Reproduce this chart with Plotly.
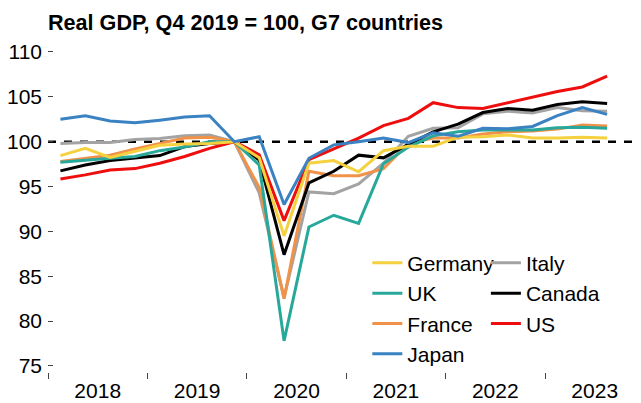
import plotly.graph_objects as go

quarters = ["2018Q1","2018Q2","2018Q3","2018Q4","2019Q1","2019Q2","2019Q3","2019Q4",
            "2020Q1","2020Q2","2020Q3","2020Q4","2021Q1","2021Q2","2021Q3","2021Q4",
            "2022Q1","2022Q2","2022Q3","2022Q4","2023Q1","2023Q2","2023Q3"]

germany = [98.45, 99.25, 98.25, 98.9, 99.6, 99.75, 99.8, 100, 98.2, 89.5, 97.6, 97.9,
           96.65, 99.0, 99.5, 99.5, 100.5, 100.55, 100.75, 100.4, 100.4, 100.5, 100.4]
italy = [99.8, 99.9, 99.9, 100.25, 100.35, 100.65, 100.75, 100, 94.3, 82.6, 94.4, 94.2,
         95.3, 97.6, 100.6, 101.5, 101.55, 103.1, 103.4, 103.2, 103.8, 103.45, 103.4]
uk = [97.7, 97.95, 98.15, 98.35, 99.0, 99.4, 100.0, 100, 97.4, 77.8, 90.5, 91.8,
      90.9, 97.55, 99.4, 100.65, 101.1, 101.3, 101.3, 101.3, 101.55, 101.6, 101.5]
canada = [96.75, 97.4, 97.9, 98.15, 98.45, 99.45, 99.8, 100, 97.95, 87.4, 95.4, 96.7,
          98.5, 98.2, 99.7, 101.1, 101.95, 103.25, 103.7, 103.5, 104.15, 104.45, 104.25]
france = [97.8, 98.15, 98.5, 99.2, 99.8, 100.4, 100.5, 100, 94.9, 82.5, 96.7, 96.2,
          96.2, 97.0, 99.8, 100.4, 100.4, 100.85, 101.1, 101.2, 101.4, 101.85, 101.75]
us = [95.85, 96.3, 96.85, 97.0, 97.6, 98.35, 99.25, 100, 98.55, 91.2, 98.0, 99.2,
      100.4, 101.8, 102.6, 104.35, 103.8, 103.7, 104.35, 105.0, 105.6, 106.1, 107.3]
japan = [102.5, 102.9, 102.3, 102.1, 102.4, 102.75, 102.9, 100, 100.55, 93.0, 98.15, 99.65,
         100.0, 100.4, 99.9, 101.0, 100.6, 101.5, 101.45, 101.7, 102.9, 103.8, 103.05]

years = [2018, 2019, 2020, 2021, 2022, 2023]
year_labels = ["2018", "2019", "2020", "2021", "2022", "2023"]
y_ticks = [75, 80, 85, 90, 95, 100, 105, 110]
baseline = 100

# quarter -> numeric position at the middle of the quarter
x = [int(q[:4]) + (int(q[-1]) - 0.5) / 4 for q in quarters]

FONT = "Liberation Sans, Arial, sans-serif"

# (name, values, colour, legend, rank) - drawing order chosen for overlaps
series = [
    ("Italy", italy, "#A3A3A3", "legend2", 1),
    ("France", france, "#F0924A", "legend", 3),
    ("Canada", canada, "#000000", "legend2", 2),
    ("UK", uk, "#27A89A", "legend", 2),
    ("US", us, "#EE0E0E", "legend2", 3),
    ("Germany", germany, "#F5D13F", "legend", 1),
    ("Japan", japan, "#3A82C2", "legend", 4),
]

fig = go.Figure()
for name, vals, col, leg, rank in series:
    fig.add_trace(go.Scatter(
        x=x, y=vals, mode="lines", name=name,
        line=dict(color=col, width=3),
        legend=leg, legendrank=rank, legendgroup=name,
    ))

fig.add_shape(type="line", xref="paper", x0=0, x1=1, yref="y", y0=baseline, y1=baseline,
              line=dict(color="black", width=2.5, dash="8px,8px"), layer="below")

legend_common = dict(
    orientation="v", xanchor="left", yanchor="top",
    font=dict(family=FONT, size=21, color="black"),
    bgcolor="rgba(0,0,0,0)", itemwidth=30, tracegroupgap=0,
    traceorder="normal",
)

# the page body adds an 8px offset, so the figure is sized to the remaining window
fig.update_layout(
    width=633, height=395,
    margin=dict(l=40, r=6, t=35, b=31, autoexpand=False),
    paper_bgcolor="white", plot_bgcolor="white",
    font=dict(family=FONT, size=21, color="black"),
    title=dict(text="<b>Real GDP, Q4 2019 = 100, G7 countries</b>",
               x=0, xref="paper", xanchor="left",
               y=1 - 14.5 / 395, yref="container", yanchor="middle",
               font=dict(family=FONT, size=21.6, color="black")),
    showlegend=True,
    legend=dict(x=0.544, y=0.393, **legend_common),
    legend2=dict(x=0.746, y=0.393, **legend_common),
    xaxis=dict(
        range=[2018, 2018 + 587 / 99.4], automargin=False,
        tickmode="array", tickvals=[y + 0.5 for y in years], ticktext=year_labels,
        ticks="", showgrid=False, zeroline=False, showline=False,
        ticklabelstandoff=4,
        tickfont=dict(family=FONT, size=21, color="black"),
        minor=dict(tickmode="array", tickvals=years + [2024], ticks="outside",
                   ticklen=6, tickwidth=1, tickcolor="#444", showgrid=False),
    ),
    yaxis=dict(
        range=[74.33, 111], tickmode="array", tickvals=y_ticks, automargin=False,
        ticks="inside", ticklen=5, tickwidth=1, tickcolor="#444",
        showgrid=False, zeroline=False, showline=False,
        ticklabelstandoff=5,
        tickfont=dict(family=FONT, size=21, color="black"),
    ),
)

fig.write_html("out.html")
